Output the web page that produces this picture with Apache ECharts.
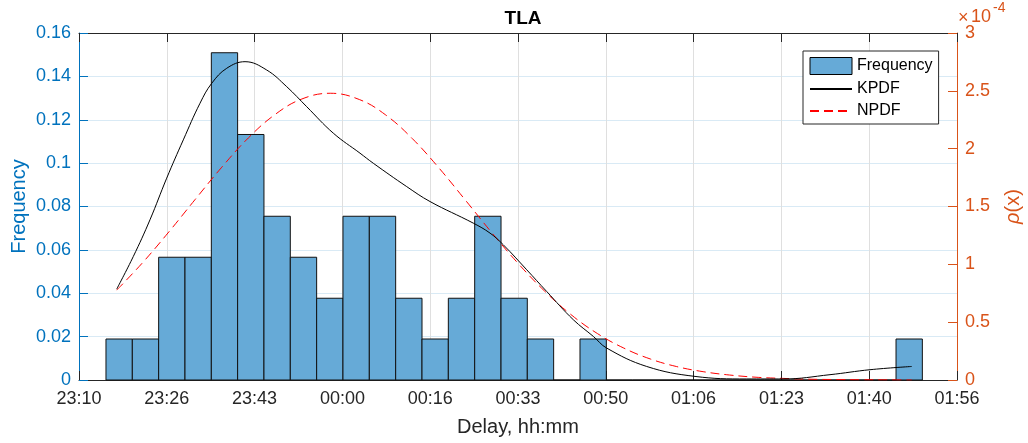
<!DOCTYPE html>
<html>
<head>
<meta charset="utf-8">
<script src="https://cdn.jsdelivr.net/npm/echarts@6/dist/echarts.min.js"></script>
<style>
html,body{margin:0;padding:0;background:#fff;}
#chart{width:1028px;height:443px;}
</style>
</head>
<body>
<div id="chart"></div>
<script>
// x values are minutes after 23:10
const xTickLabels = ['23:10','23:26','23:43','00:00','00:16','00:33','00:50','01:06','01:23','01:40','01:56'];
const binEdges = [5.10,10.08,15.06,20.04,25.02,29.99,34.97,39.95,44.93,49.91,54.89,59.87,64.85,69.83,74.81,79.79,84.76,89.74,94.72,99.70,104.68,109.66,114.64,119.62,124.60,129.58,134.55,139.53,144.51,149.49,154.47,159.45];
const frequency = [0.0189,0.0189,0.0566,0.0566,0.1509,0.1132,0.0755,0.0566,0.0377,0.0755,0.0755,0.0377,0.0189,0.0377,0.0755,0.0377,0.0189,0,0.0189,0,0,0,0,0,0,0,0,0,0,0,0.0189];
// densities in units of 1e-4
const kpdfX = [7.13,10.27,13.42,16.58,19.72,22.88,25.09,27.93,31.39,35.49,39.27,43.05,48.08,53.13,55.64,61.96,66.36,74.55,77.71,80.22,84.65,88.43,93.46,97.24,99.77,107.33,116.47,126.24,133.16,141.99,149.55,157.44];
const kpdfY = [0.786,1.068,1.385,1.745,2.076,2.393,2.565,2.695,2.752,2.680,2.536,2.363,2.134,1.961,1.874,1.672,1.543,1.356,1.270,1.169,0.953,0.765,0.521,0.377,0.276,0.117,0.031,0.009,0.009,0.046,0.089,0.117];
const npdfX = [7.13,12,17,22,27,32,37,42,47.5,53,58,63,68,73,78,83,88,93,98,103,108,113,118,123,128,133,138,143,148,153,157.44];
const npdfY = [0.777,1.013,1.281,1.563,1.840,2.092,2.293,2.427,2.479,2.425,2.291,2.088,1.836,1.558,1.276,1.009,0.770,0.566,0.402,0.276,0.182,0.116,0.072,0.043,0.024,0.014,0.007,0.004,0.002,0.001,0.000];

const FONT = '"Liberation Sans", Arial, Helvetica, sans-serif';
const BLUE = '#0072BD', ORANGE = '#D95319', DARK = '#262626';
const X_STEP = 16.6;
const NO_SYMBOL = {color: 'rgba(0,0,0,0)', borderColor: 'rgba(0,0,0,0)', borderWidth: 0, opacity: 0};

const histData = frequency.map((f, i) => [binEdges[i], binEdges[i + 1], f]);
const kpdfData = kpdfX.map((x, i) => [x, kpdfY[i]]);
const npdfData = npdfX.map((x, i) => [x, npdfY[i]]);

const chart = echarts.init(document.getElementById('chart'), null, {renderer: 'canvas'});
chart.setOption({
  animation: false,
  backgroundColor: '#fff',
  textStyle: {fontFamily: FONT},
  title: {
    text: 'TLA', left: 518, top: 4, textAlign: 'center',
    textStyle: {fontFamily: FONT, fontSize: 19, fontWeight: 'bold', color: '#000'}
  },
  grid: {left: 79, right: 71, top: 33, bottom: 63, containLabel: false, outerBoundsMode: 'none'},
  legend: {
    orient: 'vertical', left: 803, top: 51,
    padding: [6, 6, 5, 6], itemGap: 6, itemWidth: 42, itemHeight: 17,
    borderColor: DARK, borderWidth: 1, backgroundColor: '#fff',
    textStyle: {fontFamily: FONT, fontSize: 16, color: '#000'},
    data: [
      {name: 'Frequency', icon: 'rect', itemStyle: {color: '#66AAD7', borderColor: '#000', borderWidth: 1}},
      {name: 'KPDF', itemStyle: NO_SYMBOL},
      {name: 'NPDF', itemStyle: NO_SYMBOL}
    ]
  },
  xAxis: [{
    type: 'value', position: 'bottom', min: 0, max: 166, interval: X_STEP,
    name: 'Delay, hh:mm', nameLocation: 'middle', nameGap: 37, nameMoveOverlap: false,
    nameTextStyle: {fontFamily: FONT, fontSize: 20, color: DARK},
    axisLine: {show: true, onZero: false, lineStyle: {color: DARK, width: 1}},
    axisTick: {show: true, inside: true, length: 9, lineStyle: {color: DARK}},
    axisLabel: {
      fontFamily: FONT, fontSize: 18, color: DARK, margin: 10,
      formatter: v => xTickLabels[Math.round(v / X_STEP)] || ''
    },
    splitLine: {show: true, lineStyle: {color: '#dfdfdf', width: 1}}
  }, {
    type: 'value', position: 'top', min: 0, max: 166, interval: X_STEP,
    axisLine: {show: true, onZero: false, lineStyle: {color: DARK, width: 1}},
    axisTick: {show: true, inside: true, length: 9, lineStyle: {color: DARK}},
    axisLabel: {show: false},
    splitLine: {show: false}
  }],
  yAxis: [{
    type: 'value', position: 'left', min: 0, max: 0.16, interval: 0.02,
    name: 'Frequency', nameLocation: 'middle', nameGap: 50, nameRotate: 90, nameMoveOverlap: false,
    nameTextStyle: {fontFamily: FONT, fontSize: 20, color: BLUE},
    axisLine: {show: true, onZero: false, lineStyle: {color: BLUE, width: 1}},
    axisTick: {show: true, inside: true, length: 9, lineStyle: {color: BLUE}},
    axisLabel: {fontFamily: FONT, fontSize: 18, color: BLUE, margin: 8},
    splitLine: {show: true, lineStyle: {color: '#d9eaf5', width: 1}}
  }, {
    type: 'value', position: 'right', min: 0, max: 3, interval: 0.5,
    name: '{i|ρ}(x)', nameLocation: 'middle', nameGap: 46, nameRotate: 90, nameMoveOverlap: false,
    nameTextStyle: {fontFamily: FONT, fontSize: 20, color: ORANGE,
      rich: {i: {fontFamily: FONT, fontSize: 20, fontStyle: 'italic', color: ORANGE}}},
    axisLine: {show: true, onZero: false, lineStyle: {color: ORANGE, width: 1}},
    axisTick: {show: true, inside: true, length: 9, lineStyle: {color: ORANGE}},
    axisLabel: {fontFamily: FONT, fontSize: 18, color: ORANGE, margin: 8},
    splitLine: {show: false}
  }],
  graphic: [
    {type: 'text', left: 958, top: 9, style: {text: '×', fill: ORANGE, font: '18px ' + FONT}},
    {type: 'text', left: 971, top: 8, style: {text: '10', fill: ORANGE, font: '18px ' + FONT}},
    {type: 'text', left: 993, top: 1, style: {text: '-4', fill: ORANGE, font: '14px ' + FONT}}
  ],
  series: [{
    name: 'Frequency', type: 'custom', xAxisIndex: 0, yAxisIndex: 0,
    itemStyle: {color: '#66AAD7', borderColor: '#000', borderWidth: 1},
    data: histData,
    encode: {x: [0, 1], y: 2},
    renderItem: function (params, api) {
      const p0 = api.coord([api.value(0), api.value(2)]);
      const p1 = api.coord([api.value(1), 0]);
      return {
        type: 'rect',
        shape: {x: p0[0], y: p0[1], width: p1[0] - p0[0], height: p1[1] - p0[1]},
        style: {fill: '#66AAD7', stroke: '#111', lineWidth: 1}
      };
    },
    z: 2
  }, {
    name: 'KPDF', type: 'line', xAxisIndex: 0, yAxisIndex: 1,
    data: kpdfData, showSymbol: false, symbol: 'none', smooth: 0.4,
    lineStyle: {color: '#000', width: 1}, itemStyle: {color: '#000'}, z: 4
  }, {
    name: 'NPDF', type: 'line', xAxisIndex: 0, yAxisIndex: 1,
    data: npdfData, showSymbol: false, symbol: 'none', smooth: 0.4,
    lineStyle: {color: '#FF0000', width: 1, type: [9, 5]}, itemStyle: {color: '#FF0000'}, z: 3
  }]
});
</script>
</body>
</html>
